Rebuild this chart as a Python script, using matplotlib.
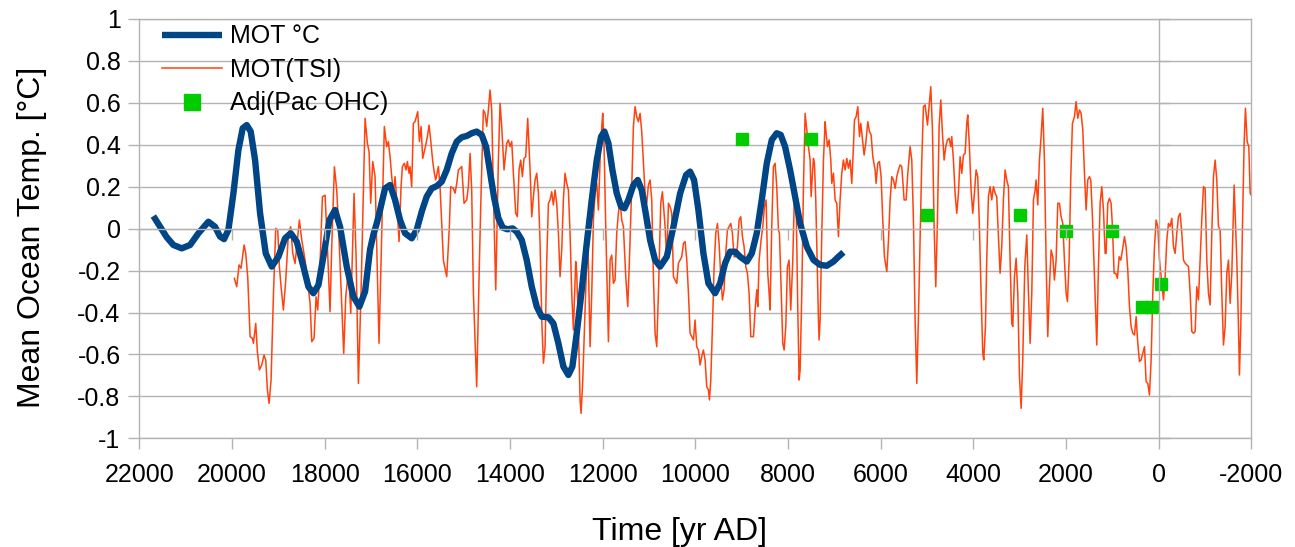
import numpy as np
import matplotlib.pyplot as plt

plt.rcParams['font.family'] = ['Liberation Sans', 'DejaVu Sans']
plt.rcParams['axes.unicode_minus'] = False

# mean ocean temperature reconstruction (smooth)
mot_years = [21697, 21553, 21409, 21265, 21085, 20905, 20725, 20510, 20366, 20258,
             20172, 20078, 19970, 19862, 19769, 19682, 19596, 19502, 19394, 19272,
             19142, 18999, 18855, 18732, 18603, 18459, 18351, 18244, 18135, 18028,
             17898, 17776, 17668, 17524, 17380, 17251, 17128, 17021, 16950, 16870,
             16805, 16697, 16589, 16481, 16373, 16265, 16122, 16014, 15906, 15798,
             15690, 15582, 15474, 15366, 15258, 15150, 15042, 14934, 14827, 14719,
             14611, 14517, 14431, 14345, 14251, 14157, 14057, 13942, 13855, 13747,
             13639, 13531, 13423, 13315, 13171, 13064, 12956, 12848, 12740, 12654,
             12560, 12452, 12344, 12236, 12128, 12035, 11963, 11876, 11790, 11697,
             11603, 11531, 11445, 11337, 11243, 11157, 11071, 10977, 10869, 10761,
             10617, 10473, 10329, 10200, 10114, 10027, 9934, 9826, 9718, 9574,
             9466, 9358, 9250, 9142, 9034, 8890, 8782, 8675, 8567, 8459,
             8351, 8244, 8157, 8063, 7955, 7847, 7739, 7595, 7451, 7307,
             7163, 7020, 6912, 6804]
mot_temp = [0.060, 0.009, -0.041, -0.078, -0.094, -0.078, -0.022, 0.033, 0.009, -0.038,
            -0.050, -0.006, 0.168, 0.375, 0.479, 0.494, 0.463, 0.327, 0.073, -0.118,
            -0.181, -0.134, -0.046, -0.022, -0.062, -0.181, -0.277, -0.308, -0.269, -0.134,
            0.041, 0.089, 0.009, -0.181, -0.324, -0.372, -0.300, -0.100, -0.030, 0.030,
            0.089, 0.192, 0.208, 0.137, 0.041, -0.022, -0.046, -0.006, 0.081, 0.153,
            0.192, 0.203, 0.224, 0.280, 0.359, 0.415, 0.436, 0.442, 0.455, 0.463,
            0.447, 0.391, 0.270, 0.150, 0.050, 0.005, -0.003, 0.001, -0.015, -0.054,
            -0.150, -0.277, -0.372, -0.420, -0.423, -0.452, -0.547, -0.658, -0.698, -0.658,
            -0.499, -0.293, -0.070, 0.137, 0.327, 0.439, 0.463, 0.407, 0.280, 0.169,
            0.105, 0.097, 0.137, 0.208, 0.232, 0.184, 0.073, -0.054, -0.150, -0.181,
            -0.134, 0.009, 0.168, 0.256, 0.272, 0.232, 0.089, -0.118, -0.261, -0.308,
            -0.261, -0.165, -0.110, -0.110, -0.134, -0.157, -0.118, -0.022, 0.137, 0.311,
            0.423, 0.455, 0.447, 0.391, 0.280, 0.152, 0.025, -0.086, -0.149, -0.173,
            -0.177, -0.157, -0.134, -0.113]

# MOT modelled from total solar irradiance
tsi_years = [19949, 19898, 19848, 19805, 19740, 19704, 19661, 19610, 19560, 19538,
             19488, 19452, 19409, 19359, 19308, 19272, 19236, 19200, 19157, 19107,
             19056, 19013, 18977, 18941, 18891, 18840, 18783, 18733, 18689, 18639,
             18582, 18546, 18495, 18423, 18315, 18279, 18229, 18186, 18150, 18099,
             18049, 17992, 17956, 17884, 17848, 17790, 17740, 17704, 17632, 17589,
             17545, 17488, 17437, 17366, 17322, 17272, 17214, 17164, 17128, 17078,
             17042, 17006, 16963, 16912, 16827, 16712, 16661, 16625, 16589, 16553,
             16517, 16481, 16445, 16395, 16352, 16323, 16280, 16244, 16215, 16179,
             16158, 16122, 16086, 16050, 15992, 15956, 15920, 15884, 15834, 15783,
             15748, 15712, 15668, 15632, 15604, 15546, 15510, 15438, 15366, 15309,
             15280, 15222, 15186, 15150, 15114, 15078, 15042, 14992, 14934, 14899,
             14862, 14827, 14790, 14719, 14668, 14625, 14575, 14539, 14503, 14467,
             14431, 14395, 14359, 14308, 14251, 14215, 14179, 14129, 14071, 14035,
             13999, 13963, 13927, 13877, 13841, 13805, 13769, 13733, 13697, 13661,
             13618, 13567, 13531, 13495, 13459, 13423, 13387, 13351, 13315, 13279,
             13243, 13207, 13171, 13136, 13100, 13064, 13028, 12992, 12956, 12920,
             12884, 12848, 12812, 12776, 12740, 12704, 12668, 12632, 12582, 12560,
             12524, 12488, 12466, 12430, 12380, 12322, 12272, 12236, 12200, 12164,
             12128, 12092, 12056, 12020, 11999, 11970, 11934, 11876, 11840, 11804,
             11769, 11733, 11697, 11661, 11625, 11589, 11553, 11502, 11459, 11423,
             11373, 11337, 11301, 11265, 11229, 11193, 11157, 11121, 11085, 11049,
             11013, 10977, 10941, 10905, 10869, 10833, 10797, 10747, 10711, 10653,
             10617, 10581, 10545, 10509, 10473, 10437, 10401, 10365, 10329, 10293,
             10257, 10221, 10185, 10149, 10113, 10077, 10041, 10006, 9970, 9934,
             9898, 9862, 9826, 9790, 9754, 9718, 9696, 9667, 9631, 9595,
             9559, 9523, 9488, 9452, 9416, 9380, 9344, 9308, 9272, 9236,
             9200, 9164, 9128, 9092, 9056, 9020, 8984, 8948, 8912, 8876,
             8840, 8804, 8746, 8710, 8674, 8653, 8624, 8581, 8545, 8509,
             8473, 8437, 8408, 8387, 8351, 8315, 8279, 8243, 8207, 8185,
             8149, 8113, 8084, 8048, 8013, 7977, 7941, 7897, 7861, 7826,
             7790, 7761, 7739, 7703, 7667, 7631, 7595, 7559, 7523, 7501,
             7473, 7451, 7430, 7401, 7372, 7343, 7329, 7307, 7271, 7235,
             7199, 7178, 7149, 7113, 7077, 7055, 7019, 6983, 6948, 6912,
             6876, 6840, 6804, 6768, 6732, 6696, 6660, 6624, 6588, 6566,
             6530, 6494, 6458, 6429, 6393, 6358, 6322, 6278, 6242, 6206,
             6170, 6120, 6099, 6063, 6027, 5991, 5955, 5919, 5868, 5832,
             5796, 5760, 5724, 5688, 5652, 5617, 5581, 5545, 5494, 5451,
             5415, 5365, 5329, 5293, 5257, 5221, 5185, 5149, 5113, 5077,
             5041, 4990, 4955, 4919, 4883, 4847, 4811, 4775, 4739, 4703,
             4667, 4631, 4595, 4559, 4523, 4487, 4466, 4430, 4394, 4358,
             4322, 4286, 4250, 4214, 4178, 4142, 4121, 4085, 4049, 4013,
             3977, 3941, 3905, 3869, 3833, 3797, 3775, 3739, 3711, 3675,
             3639, 3603, 3567, 3531, 3495, 3459, 3423, 3387, 3351, 3315,
             3279, 3243, 3207, 3171, 3149, 3113, 3077, 3041, 3005, 2969,
             2934, 2890, 2847, 2811, 2775, 2739, 2703, 2667, 2646, 2610,
             2574, 2538, 2502, 2466, 2430, 2394, 2358, 2322, 2286, 2250,
             2214, 2178, 2142, 2106, 2070, 2034, 1998, 1969, 1933, 1897,
             1862, 1818, 1782, 1746, 1710, 1674, 1638, 1602, 1566, 1531,
             1495, 1466, 1430, 1387, 1336, 1300, 1264, 1228, 1192, 1156,
             1135, 1099, 1063, 1027, 998, 962, 926, 890, 854, 818,
             782, 739, 703, 667, 631, 595, 559, 523, 487, 451,
             415, 379, 343, 307, 271, 235, 199, 163, 127, 91,
             55, 19, -17, -53, -103, -139, -175, -211, -247, -283,
             -319, -355, -391, -427, -463, -499, -535, -571, -643, -679,
             -715, -751, -787, -822, -858, -894, -930, -966, -1002, -1038,
             -1074, -1110, -1146, -1182, -1218, -1254, -1290, -1326, -1362, -1398,
             -1434, -1470, -1506, -1542, -1578, -1628, -1686, -1722, -1743, -1772,
             -1808, -1844, -1873, -1909, -1945, -1974, -1995]
tsi_temp = [-0.237, -0.277, -0.173, -0.189, -0.078, -0.118, -0.229, -0.515, -0.523, -0.547,
            -0.452, -0.587, -0.674, -0.650, -0.603, -0.627, -0.770, -0.833, -0.722, -0.325,
            0.001, -0.007, -0.182, -0.277, -0.388, -0.245, -0.023, 0.009, -0.118, -0.166,
            -0.039, 0.041, -0.054, -0.150, -0.356, -0.539, -0.523, -0.325, -0.388, -0.166,
            0.152, 0.160, -0.007, -0.396, -0.086, 0.295, 0.184, 0.025, -0.356, -0.595,
            -0.325, -0.197, -0.404, 0.168, -0.134, -0.738, -0.293, 0.184, 0.526, 0.407,
            0.367, 0.121, 0.320, 0.248, -0.547, 0.487, 0.391, 0.415, 0.343, 0.248,
            0.169, 0.248, 0.137, -0.062, 0.200, 0.296, 0.312, 0.280, 0.320, 0.264,
            0.296, 0.200, 0.502, 0.510, 0.558, 0.415, 0.487, 0.335, 0.383, 0.439,
            0.494, 0.423, 0.320, 0.264, 0.232, 0.296, 0.200, -0.150, -0.229, 0.010,
            0.200, 0.192, 0.169, 0.216, 0.280, 0.288, 0.296, 0.121, 0.137, 0.200,
            0.359, 0.184, -0.308, -0.754, -0.229, 0.169, 0.566, 0.550, 0.487, 0.566,
            0.661, 0.566, 0.169, -0.292, 0.327, 0.598, 0.487, 0.280, 0.407, 0.423,
            0.391, 0.415, 0.264, 0.073, 0.057, 0.280, 0.327, 0.248, 0.335, 0.343,
            0.526, 0.280, 0.057, 0.153, 0.232, 0.264, 0.169, -0.070, -0.436, -0.642,
            -0.563, -0.150, 0.121, 0.137, 0.176, 0.113, 0.184, 0.121, -0.022, -0.229,
            -0.102, 0.137, 0.264, 0.216, 0.184, -0.022, -0.308, -0.483, -0.157, -0.213,
            -0.467, -0.817, -0.881, -0.722, -0.388, -0.022, -0.563, -0.308, 0.041, 0.169,
            0.216, 0.089, 0.327, 0.487, 0.550, 0.391, 0.010, -0.539, -0.150, -0.126,
            -0.261, -0.245, -0.022, 0.073, 0.137, 0.041, 0.010, -0.229, -0.372, -0.150,
            0.200, 0.487, 0.582, 0.534, 0.510, 0.550, 0.463, 0.312, 0.169, 0.121,
            0.208, 0.232, 0.137, -0.229, -0.499, -0.563, -0.308, 0.121, 0.176, 0.010,
            -0.150, 0.121, 0.105, 0.073, -0.229, -0.245, -0.261, -0.165, -0.150, -0.134,
            -0.070, -0.062, -0.150, -0.308, -0.499, -0.515, -0.531, -0.436, -0.563, -0.579,
            -0.650, -0.610, -0.579, -0.626, -0.754, -0.769, -0.817, -0.722, -0.467, -0.181,
            -0.022, 0.025, -0.070, -0.229, -0.340, -0.292, -0.118, -0.006, 0.010, 0.025,
            -0.022, -0.134, -0.134, -0.086, 0.041, 0.057, -0.038, -0.086, -0.181, -0.213,
            -0.308, -0.515, -0.515, -0.388, -0.292, -0.372, -0.150, -0.054, 0.010, 0.105,
            0.137, -0.213, -0.308, -0.388, 0.010, 0.296, 0.312, 0.200, -0.006, -0.022,
            -0.292, -0.547, -0.579, -0.467, -0.181, -0.150, -0.388, -0.150, 0.169, 0.137,
            -0.372, -0.722, -0.674, -0.308, 0.200, 0.550, 0.471, 0.391, 0.327, 0.153,
            0.264, 0.335, 0.312, 0.137, -0.150, -0.436, -0.531, -0.436, -0.022, 0.327,
            0.510, 0.455, 0.391, 0.423, 0.327, 0.216, 0.264, 0.137, 0.121, -0.038,
            0.137, 0.264, 0.327, 0.280, 0.335, 0.288, 0.327, 0.216, 0.391, 0.518,
            0.534, 0.582, 0.439, 0.502, 0.423, 0.351, 0.407, 0.510, 0.463, 0.447,
            0.343, 0.280, 0.216, 0.312, 0.320, 0.248, 0.041, -0.134, -0.205, -0.054,
            0.137, 0.248, 0.232, 0.192, 0.248, 0.280, 0.304, 0.296, 0.137, 0.137,
            0.264, 0.391, 0.327, 0.041, -0.436, -0.738, -0.420, -0.038, 0.327, 0.582,
            0.590, 0.494, 0.582, 0.677, 0.471, 0.010, -0.277, 0.041, 0.487, 0.614,
            0.455, 0.327, 0.391, 0.423, 0.431, 0.391, 0.439, 0.327, 0.169, 0.073,
            0.169, 0.343, 0.264, 0.351, 0.359, 0.502, 0.542, 0.391, 0.184, 0.073,
            0.169, 0.280, 0.248, 0.010, -0.308, -0.594, -0.626, -0.467, -0.150, 0.153,
            0.200, 0.137, 0.200, 0.169, 0.153, -0.038, -0.213, -0.086, 0.137, 0.280,
            0.232, 0.200, -0.150, -0.452, -0.467, -0.229, -0.141, -0.308, -0.706, -0.857,
            -0.626, -0.181, -0.030, -0.308, -0.547, -0.308, 0.137, 0.184, 0.232, 0.113,
            0.327, 0.439, 0.574, 0.327, -0.150, -0.515, -0.277, -0.102, -0.134, -0.245,
            -0.150, 0.121, 0.121, 0.057, 0.025, -0.150, -0.308, -0.348, -0.150, 0.248,
            0.502, 0.534, 0.606, 0.526, 0.566, 0.550, 0.471, 0.264, 0.089, 0.232,
            0.248, 0.232, 0.057, -0.229, -0.555, -0.181, 0.121, 0.200, 0.089, -0.118,
            -0.118, 0.121, 0.145, 0.121, 0.010, -0.213, -0.213, -0.237, -0.134, -0.150,
            -0.102, -0.038, -0.086, -0.197, -0.372, -0.467, -0.499, -0.507, -0.420, -0.547,
            -0.634, -0.626, -0.595, -0.563, -0.730, -0.738, -0.793, -0.626, -0.308, -0.086,
            0.041, 0.010, -0.150, -0.229, -0.340, -0.229, -0.054, 0.025, 0.010, 0.049,
            -0.086, -0.118, -0.022, 0.057, 0.073, -0.022, -0.150, -0.165, -0.181, -0.308,
            -0.491, -0.499, -0.491, -0.277, -0.340, -0.150, 0.041, 0.200, 0.192, -0.150,
            -0.308, -0.364, -0.022, 0.248, 0.327, 0.232, 0.010, -0.006, -0.308, -0.555,
            -0.467, -0.213, -0.150, -0.356, -0.213, 0.208, -0.150, -0.467, -0.698, -0.467,
            0.010, 0.407, 0.574, 0.415, 0.391, 0.169, 0.161]

# adjusted Pacific ocean heat content points
ohc_years = [9000, 7500, 5000, 3000, 2000, 1000, 350, 150, -50]
ohc_temp = [0.428, 0.428, 0.065, 0.065, -0.01, -0.01, -0.372, -0.372, -0.264]

xticks = [22000, 20000, 18000, 16000, 14000, 12000, 10000, 8000, 6000, 4000, 2000, 0, -2000]
yticks = [-1, -0.8, -0.6, -0.4, -0.2, 0, 0.2, 0.4, 0.6, 0.8, 1]
ytick_labels = ['-1', '-0.8', '-0.6', '-0.4', '-0.2', '0', '0.2', '0.4', '0.6', '0.8', '1']

grey = '#b3b3b3'

fig = plt.figure(figsize=(12.95, 5.47), dpi=100)
ax = fig.add_axes([0.1076, 0.1987, 0.8587, 0.7666])

ax.plot(tsi_years, tsi_temp, color='#ff420e', lw=1.1, label='MOT(TSI)', zorder=3)
ax.plot(mot_years, mot_temp, color='#004586', lw=4.6, label='MOT °C',
        solid_joinstyle='round', solid_capstyle='butt', zorder=4)
ax.plot(ohc_years, ohc_temp, ls='', marker='s', ms=8.6, color='#00cc00',
        mec='#00cc00', label='Adj(Pac OHC)', zorder=5)

ax.set_xlim(22000, -2000)
ax.set_ylim(-1, 1)
ax.set_xticks(xticks)
ax.set_xticklabels([str(t) for t in xticks])
ax.set_yticks(yticks)
ax.set_yticklabels(ytick_labels)
ax.yaxis.grid(True, color=grey, lw=1.0)
ax.set_axisbelow(True)
for s in ax.spines.values():
    s.set_color(grey)
    s.set_linewidth(1.0)
ax.tick_params(axis='both', direction='out', length=8, width=1.0, color=grey,
               labelsize=18)
ax.tick_params(axis='x', pad=10)
ax.tick_params(axis='y', pad=5.5)

# inner axis lines crossing at (0, 0)
ax2 = fig.add_axes(ax.get_position(), sharex=ax, sharey=ax)
ax2.patch.set_visible(False)
ax2.spines['top'].set_visible(False)
ax2.spines['right'].set_visible(False)
ax2.spines['left'].set_position(('data', 0))
ax2.spines['bottom'].set_position(('data', 0))
for s in ('left', 'bottom'):
    ax2.spines[s].set_color(grey)
    ax2.spines[s].set_linewidth(1.0)
ax2.tick_params(axis='y', direction='in', length=8, width=1.0, color=grey, labelleft=False)
ax2.tick_params(axis='x', direction='out', length=8, width=1.0, color=grey, labelbottom=False)
ax2.set_zorder(0.5)

ax.set_xlabel('Time [yr AD]', fontsize=23)
ax.xaxis.set_label_coords(0.486, -0.188)
ax.set_ylabel('Mean Ocean Temp. [°C]', fontsize=23)
ax.yaxis.set_label_coords(-0.083, 0.48)

h, l = ax.get_legend_handles_labels()
order = [1, 0, 2]
ax.legend([h[i] for i in order], [l[i] for i in order], loc='upper left',
          bbox_to_anchor=(0.020, 0.987), frameon=False, fontsize=18,
          handlelength=2.4, handletextpad=0.35, labelspacing=0.38,
          markerscale=1.4, borderpad=0, borderaxespad=0)

fig.savefig('out.png', dpi=100)
